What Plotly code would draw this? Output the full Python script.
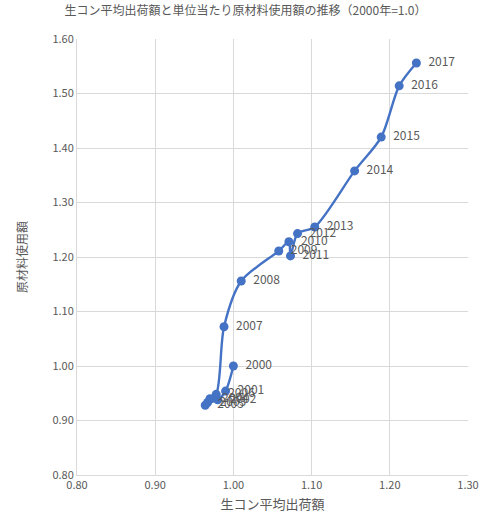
import plotly.graph_objects as go

# 2000年=1.0 とした指数
years = ["2000", "2001", "2002", "2003", "2004", "2005", "2006", "2007", "2008",
         "2009", "2010", "2011", "2012", "2013", "2014", "2015", "2016", "2017"]
shipment = [1.000, 0.990, 0.980, 0.967, 0.970, 0.964, 0.978, 0.988, 1.010,
            1.058, 1.071, 1.073, 1.082, 1.104, 1.155, 1.189, 1.212, 1.234]
material = [1.000, 0.954, 0.938, 0.933, 0.940, 0.928, 0.948, 1.072, 1.156,
            1.211, 1.228, 1.202, 1.243, 1.255, 1.358, 1.420, 1.514, 1.556]

x_ticks = [0.80, 0.90, 1.00, 1.10, 1.20, 1.30]
y_ticks = [0.80, 0.90, 1.00, 1.10, 1.20, 1.30, 1.40, 1.50, 1.60]

FONT = "Noto Sans CJK JP"
GREY = "#595959"
BLUE = "#4472C4"

fig = go.Figure(
    go.Scatter(
        x=shipment,
        y=material,
        mode="lines+markers+text",
        text=["  " + y for y in years],
        textposition="middle right",
        textfont=dict(family=FONT, size=12, color=GREY),
        line=dict(color=BLUE, width=2.4, shape="spline", smoothing=0.8),
        marker=dict(color=BLUE, size=9),
        cliponaxis=False,
        showlegend=False,
    )
)

fig.update_layout(
    width=491,
    height=522,
    margin=dict(l=77, r=18, t=39, b=47),
    paper_bgcolor="white",
    plot_bgcolor="white",
    font=dict(family=FONT, color=GREY),
    title=dict(
        text="生コン平均出荷額と単位当たり原材料使用額の推移（2000年=1.0）",
        x=0.5,
        xanchor="center",
        y=0.988,
        yanchor="top",
        font=dict(family=FONT, size=12, color=GREY),
    ),
    xaxis=dict(
        range=[0.80, 1.30],
        tickvals=x_ticks,
        ticktext=[f"{v:.2f}" for v in x_ticks],
        showgrid=True,
        gridcolor="#d9d9d9",
        gridwidth=1,
        zeroline=False,
        showline=True,
        linecolor="#d9d9d9",
        linewidth=1,
        ticks="",
        tickfont=dict(family=FONT, size=11, color=GREY),
        title=dict(text="生コン平均出荷額", font=dict(family=FONT, size=13, color=GREY), standoff=8),
    ),
    yaxis=dict(
        range=[0.80, 1.60],
        tickvals=y_ticks,
        ticktext=[f"{v:.2f}" for v in y_ticks],
        showgrid=True,
        gridcolor="#d9d9d9",
        gridwidth=1,
        zeroline=False,
        showline=True,
        linecolor="#d9d9d9",
        linewidth=1,
        ticks="",
        tickfont=dict(family=FONT, size=11, color=GREY),
        title=dict(text="原材料使用額", font=dict(family=FONT, size=12, color=GREY), standoff=22),
    ),
)

fig.write_html("out.html")
